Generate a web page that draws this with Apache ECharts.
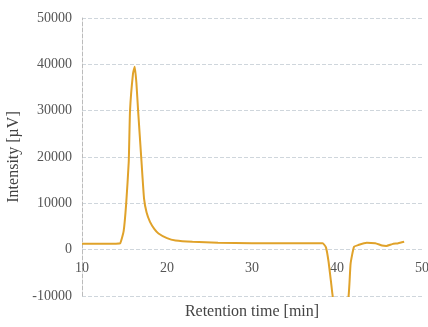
<!DOCTYPE html>
<html><head><meta charset="utf-8">
<script src="https://cdn.jsdelivr.net/npm/echarts@6/dist/echarts.min.js"></script>
<style>html,body{margin:0;padding:0;background:#fff}#c{width:428px;height:327px}</style>
</head><body><div id="c"></div>
<script>
const times = [10, 12, 14, 14.5, 14.9, 15.2, 15.5, 15.65, 16.0, 16.2, 16.4, 16.6, 17.0, 17.3, 17.6, 18, 18.5, 19, 20, 21, 23, 26, 30, 35, 38.3, 38.7, 39.0, 39.3, 39.6, 40.5, 41.3, 41.6, 42.0, 42.5, 43.5, 44.5, 45.3, 45.8, 46.5, 47.2, 47.9];
const intensity = [1300, 1300, 1300, 1400, 4000, 10000, 19000, 30000, 38000, 39500, 36000, 30000, 19000, 11000, 8000, 6000, 4500, 3500, 2500, 2000, 1700, 1500, 1400, 1400, 1400, 500, -2500, -7000, -11000, -12000, -11000, -3000, 600, 1000, 1500, 1400, 900, 800, 1200, 1400, 1700];
const yTicks = [-10000, 50000, 10000];
const xTicks = [10, 50, 10];
const font = '"Liberation Serif", "DejaVu Serif", serif';
const chart = echarts.init(document.getElementById('c'));
chart.setOption({
  animation: false,
  grid: {left: 82, right: 6, top: 18, bottom: 31, containLabel: false, outerBoundsMode: 'none'},
  xAxis: {
    type: 'value', min: xTicks[0], max: xTicks[1], interval: xTicks[2],
    offset: -45,
    name: 'Retention time [min]', nameLocation: 'middle', nameGap: 53,
    nameTextStyle: {fontFamily: font, fontSize: 16, color: '#444'},
    axisLine: {show: false, onZero: false},
    axisTick: {show: false},
    splitLine: {show: false},
    axisLabel: {fontFamily: font, fontSize: 14, color: '#555', margin: 10, formatter: v => String(v)}
  },
  yAxis: {
    type: 'value', min: yTicks[0], max: yTicks[1], interval: yTicks[2],
    name: 'Intensity [µV]', nameLocation: 'middle', nameGap: 56,
    nameTextStyle: {fontFamily: font, fontSize: 16, color: '#444'},
    axisLine: {show: true, lineStyle: {color: '#bbb', type: 'dashed', width: 1}},
    axisTick: {show: false},
    splitLine: {show: true, lineStyle: {color: '#cfd6dc', type: 'dashed', width: 1}},
    axisLabel: {fontFamily: font, fontSize: 14, color: '#555', margin: 10, formatter: v => String(v)}
  },
  series: [{
    type: 'line', data: times.map((t, i) => [t, intensity[i]]),
    showSymbol: false, smooth: 0.15, clip: true,
    lineStyle: {color: '#e0a22a', width: 2}
  }]
});
</script></body></html>
